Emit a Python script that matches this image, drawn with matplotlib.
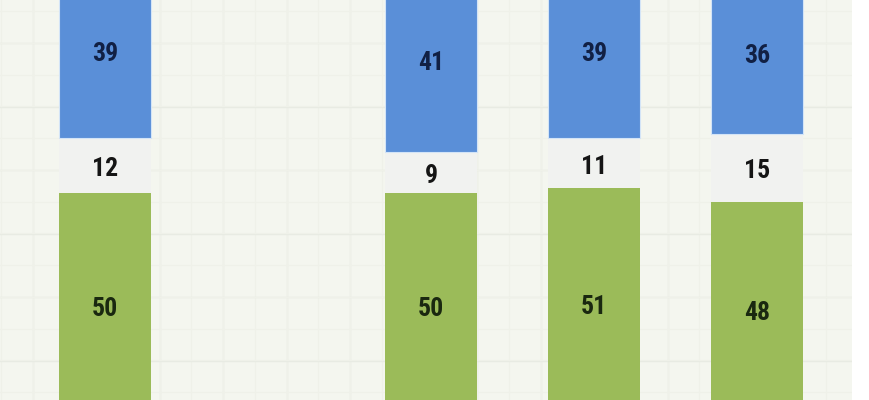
import numpy as np
import matplotlib.pyplot as plt

# stacked shares (percent), second category is empty in the source
categories = ['c1', 'c2', 'c3', 'c4', 'c5']
green_vals = [50, np.nan, 50, 51, 48]
gray_vals = [12, np.nan, 9, 11, 15]
blue_vals = [39, np.nan, 41, 39, 36]

blue = '#5a8fd8'
gray = '#f1f2f0'
green = '#9bbb59'
paper = '#f4f6ef'

plt.rcParams['font.family'] = ['Liberation Sans Narrow', 'Roboto Condensed',
                               'Liberation Sans', 'DejaVu Sans']

fig = plt.figure(figsize=(8.7, 4.0), dpi=100)
fig.patch.set_facecolor('white')

# graph paper background
bg = fig.add_axes([0, 0, 852 / 870, 1], zorder=0)
bg.set_facecolor(paper)
bg.set_xlim(0, 852)
bg.set_ylim(400, 0)
bg.set_xticks(np.arange(33, 852, 63.5))
bg.set_yticks(np.arange(43, 400, 63.5))
bg.set_xticks(np.arange(1, 852, 31.75), minor=True)
bg.set_yticks(np.arange(11, 400, 31.75), minor=True)
bg.grid(True, which='major', color='#e8ebe3', lw=1.0)
bg.grid(True, which='minor', color='#eff1e9', lw=0.8)
bg.tick_params(which='both', length=0, labelleft=False, labelbottom=False)
for s in bg.spines.values():
    s.set_visible(False)

ax = fig.add_axes([0, 0, 1, 1], zorder=1)
ax.patch.set_alpha(0)
x = np.arange(len(categories))
g = np.array(green_vals, dtype=float)
m = np.array(gray_vals, dtype=float)
b = np.array(blue_vals, dtype=float)

w = 0.56
ax.bar(x, g, w, color=green)
ax.bar(x, m, w, bottom=g, color=gray)
ax.bar(x, b, w, bottom=g + m, color=blue, edgecolor='#d3e4f7', linewidth=0.8)

for i in range(len(x)):
    if np.isnan(g[i]):
        continue
    kw = dict(ha='center', va='center', fontsize=18.5, fontweight='bold',
              xytext=(0, -2.5), textcoords='offset points')
    ax.annotate(f'{int(g[i])}', (x[i], g[i] / 2), color='#1a2810', **kw)
    ax.annotate(f'{int(m[i])}', (x[i], g[i] + m[i] / 2), color='#151515', **kw)
    ax.annotate(f'{int(b[i])}', (x[i], g[i] + m[i] + b[i] / 2), color='#112044', **kw)

ax.set_xlim(-0.644, 4.693)
ax.set_ylim(4.0, 92.7)
ax.axis('off')

fig.savefig('out.png', dpi=100)
